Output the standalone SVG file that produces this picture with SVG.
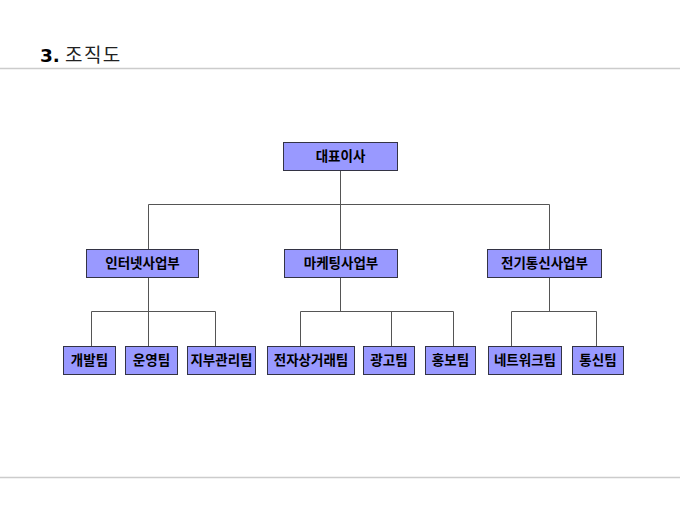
<svg xmlns="http://www.w3.org/2000/svg" width="680" height="510" viewBox="0 0 680 510">
<style>
.bx{fill:#9999ff;stroke:#333344;stroke-width:1}
.lb{font-family:"Noto Sans CJK KR","Noto Sans",sans-serif;font-size:13.5px;font-weight:bold;fill:#000;text-anchor:middle}
.cn{fill:none;stroke:#555555;stroke-width:1}
.rule{stroke:#cccccc;stroke-width:1.5}
</style>
<rect width="680" height="510" fill="#ffffff"/>
<g id="title">
<text x="40" y="62" font-family="'Noto Sans CJK KR','Noto Sans',sans-serif" font-size="18.5" fill="#000"><tspan font-weight="bold" font-family="'DejaVu Sans','Noto Sans',sans-serif">3.</tspan><tspan dx="5" fill="#222" font-size="19" letter-spacing="1.5">조직도</tspan></text>
<line class="rule" x1="0" y1="68.5" x2="680" y2="68.5"/>
<line class="rule" x1="0" y1="477.5" x2="680" y2="477.5"/>
</g>
<g id="connectors">
<path class="cn" d="M340.5,170 V249 M148.5,249 V204.5 H549.5 V249"/>
<path class="cn" d="M148.5,277 V346 M91.5,346 V311.5 H215.5 V346"/>
<path class="cn" d="M340.5,277 V311.5 M300.5,346 V311.5 H453.5 V346 M391.5,311.5 V346"/>
<path class="cn" d="M549.5,277 V311.5 M511.5,346 V311.5 H596.5 V346"/>
</g>
<g id="n-ceo"><rect class="bx" x="283.5" y="142.5" width="114" height="28"/><text class="lb" x="340.5" y="161">대표이사</text></g>
<g id="n-internet"><rect class="bx" x="86.5" y="249.5" width="112" height="28"/><text class="lb" x="142.5" y="268">인터넷사업부</text></g>
<g id="n-marketing"><rect class="bx" x="284.5" y="249.5" width="113" height="28"/><text class="lb" x="341" y="268">마케팅사업부</text></g>
<g id="n-telecom"><rect class="bx" x="487.5" y="249.5" width="114" height="28"/><text class="lb" x="544.5" y="268">전기통신사업부</text></g>
<g id="n-dev"><rect class="bx" x="63.5" y="346.5" width="52" height="28"/><text class="lb" x="89.5" y="365">개발팀</text></g>
<g id="n-ops"><rect class="bx" x="125.5" y="346.5" width="52" height="28"/><text class="lb" x="151.5" y="365">운영팀</text></g>
<g id="n-branch"><rect class="bx" x="187.5" y="346.5" width="68" height="28"/><text class="lb" x="221.5" y="365">지부관리팀</text></g>
<g id="n-ecommerce"><rect class="bx" x="267.5" y="346.5" width="87" height="28"/><text class="lb" x="311" y="365">전자상거래팀</text></g>
<g id="n-ad"><rect class="bx" x="363.5" y="346.5" width="51" height="28"/><text class="lb" x="389" y="365">광고팀</text></g>
<g id="n-pr"><rect class="bx" x="425.5" y="346.5" width="50" height="28"/><text class="lb" x="450.5" y="365">홍보팀</text></g>
<g id="n-network"><rect class="bx" x="488.5" y="346.5" width="73" height="28"/><text class="lb" x="525" y="365">네트워크팀</text></g>
<g id="n-comm"><rect class="bx" x="572.5" y="346.5" width="51" height="28"/><text class="lb" x="598" y="365">통신팀</text></g>
</svg>
